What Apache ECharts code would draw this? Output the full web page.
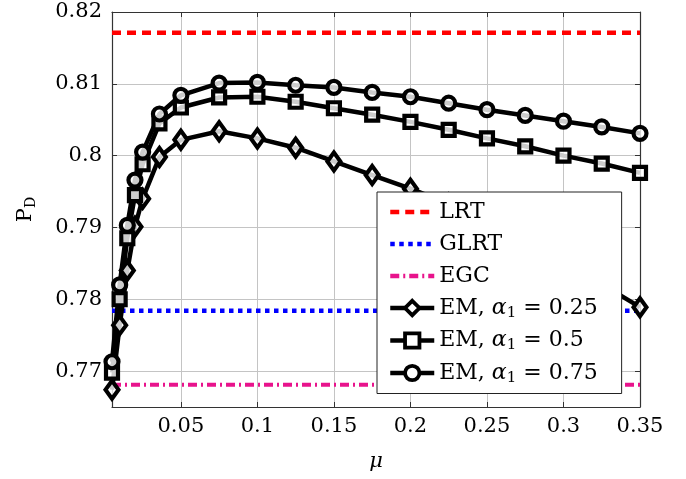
<!DOCTYPE html>
<html>
<head>
<meta charset="utf-8">
<script src="https://cdn.jsdelivr.net/npm/echarts@6/dist/echarts.min.js"></script>
<style>
html,body{margin:0;padding:0;background:#fff;}
#c{width:686px;height:479px;}
</style>
</head>
<body>
<div id="c"></div>
<script>
// ---- data ----
const mu = [0.005, 0.01, 0.015, 0.02, 0.025, 0.036, 0.05, 0.075, 0.1, 0.125, 0.15, 0.175, 0.2, 0.225, 0.25, 0.275, 0.3, 0.325, 0.35];
const emA025 = [0.7674, 0.7764, 0.7840, 0.7901, 0.7940, 0.7998, 0.8022, 0.8034, 0.8024, 0.8011, 0.7992, 0.7973, 0.7954, 0.7933, 0.7910, 0.7885, 0.7856, 0.7821, 0.7789];
const emA050 = [0.7698, 0.7800, 0.7885, 0.7945, 0.7988, 0.8045, 0.8067, 0.8081, 0.8082, 0.8075, 0.8066, 0.8057, 0.8047, 0.8036, 0.8024, 0.8013, 0.8000, 0.7989, 0.7976];
const emA075 = [0.7713, 0.7820, 0.7903, 0.7966, 0.8005, 0.8058, 0.8084, 0.8101, 0.8102, 0.8098, 0.8095, 0.8088, 0.8082, 0.8073, 0.8064, 0.8056, 0.8048, 0.8040, 0.8031];
const lrtValue = 0.8171;
const glrtValue = 0.7784;
const egcValue = 0.7681;
const xTicks = [0.05, 0.1, 0.15, 0.2, 0.25, 0.3, 0.35];
const yTicks = [0.77, 0.78, 0.79, 0.8, 0.81, 0.82];
const xRange = [0.005, 0.35];
const yRange = [0.765, 0.82];
const seriesNames = ['LRT', 'GLRT', 'EGC', 'EM, α1 = 0.25', 'EM, α1 = 0.5', 'EM, α1 = 0.75'];

const FONT = 'DejaVu Serif';
const FS = 21;
const fmt = v => String(+(+v).toFixed(3));
const pair = (xs, ys) => xs.map((x, i) => [x, ys[i]]);
const flat = v => [[xRange[0], v], [xRange[1], v]];

const axisLineStyle = {color: '#333', width: 1.2};
const gridLine = {show: true, lineStyle: {color: '#c4c4c4', width: 1}};

const emStyle = (name, data, symbol, size) => ({
  name: name, type: 'line', data: data, xAxisIndex: 0, yAxisIndex: 0,
  symbol: symbol, symbolSize: size, showSymbol: true,
  lineStyle: {color: '#000', width: 4.5},
  itemStyle: {color: 'rgba(255,255,255,0.8)', borderColor: '#000', borderWidth: 4.2},
  emphasis: {disabled: true}, animation: false, clip: false, z: 2
});
const refStyle = (name, v, color, dash, w) => ({
  name: name, type: 'line', data: flat(v), xAxisIndex: 0, yAxisIndex: 0,
  symbol: 'none', showSymbol: false,
  lineStyle: {color: color, width: w, type: dash, cap: 'butt'},
  itemStyle: {color: 'rgba(0,0,0,0)', borderWidth: 0, opacity: 0},
  emphasis: {disabled: true}, animation: false, z: 1
});

const legendItems = seriesNames.map((n, i) => i < 3
  ? {name: n, lineStyle: {width: 4.5}}
  : {name: n, lineStyle: {width: 4.5}, itemStyle: {borderWidth: 3.8, borderColor: '#000', color: '#fff'}});

const chart = echarts.init(document.getElementById('c'), null, {renderer: 'canvas'});
chart.setOption({
  backgroundColor: '#fff',
  animation: false,
  grid: {left: 112, right: 46, top: 12, bottom: 72, containLabel: false},
  xAxis: [{
    type: 'value', min: xRange[0], max: xRange[1], position: 'bottom',
    name: 'μ', nameLocation: 'middle', nameGap: 44,
    nameTextStyle: {fontFamily: FONT, fontSize: FS, fontStyle: 'italic', color: '#000'},
    axisLine: {show: true, lineStyle: axisLineStyle},
    axisTick: {show: true, inside: true, length: 5, customValues: xTicks, lineStyle: {color: '#333'}},
    axisLabel: {show: true, customValues: xTicks, formatter: fmt, margin: 9, fontFamily: FONT, fontSize: FS, color: '#000'},
    splitLine: gridLine
  }, {
    type: 'value', min: xRange[0], max: xRange[1], position: 'top',
    axisLine: {show: true, lineStyle: axisLineStyle},
    axisTick: {show: true, inside: true, length: 5, customValues: xTicks, lineStyle: {color: '#333'}},
    axisLabel: {show: false},
    splitLine: {show: false}
  }],
  yAxis: [{
    type: 'value', min: yRange[0], max: yRange[1], position: 'left',
    name: 'P{s|D}', nameLocation: 'middle', nameGap: 74, nameRotate: 90,
    nameTextStyle: {fontFamily: FONT, fontSize: FS, color: '#000',
      rich: {s: {fontFamily: FONT, fontSize: 14, color: '#000', padding: [10, 0, 0, 0]}}},
    axisLine: {show: true, lineStyle: axisLineStyle},
    axisTick: {show: true, inside: true, length: 5, customValues: yTicks, lineStyle: {color: '#333'}},
    axisLabel: {show: true, customValues: yTicks, formatter: fmt, margin: 10, fontFamily: FONT, fontSize: FS, color: '#000'},
    splitLine: gridLine
  }, {
    type: 'value', min: yRange[0], max: yRange[1], position: 'right',
    axisLine: {show: true, lineStyle: axisLineStyle},
    axisTick: {show: true, inside: true, length: 5, customValues: yTicks, lineStyle: {color: '#333'}},
    axisLabel: {show: false},
    splitLine: {show: false}
  }],
  legend: {
    show: true, orient: 'vertical', left: 377, top: 192, z: 50,
    data: legendItems,
    backgroundColor: '#fff', borderColor: '#222', borderWidth: 1,
    padding: [8, 24, 8, 11], itemGap: 8, itemWidth: 44, itemHeight: 18,
    selectedMode: false,
    textStyle: {fontFamily: FONT, fontSize: 22, color: '#000', lineHeight: 24,
      rich: {
        a: {fontFamily: FONT, fontSize: 22, fontStyle: 'italic', color: '#000'},
        s: {fontFamily: FONT, fontSize: 15, color: '#000', padding: [10, 0, 0, 0]}
      }},
    formatter: function (name) {
      if (name.indexOf('EM') === 0) {
        return 'EM, {a|α}{s|1} = ' + name.split('= ')[1];
      }
      return name;
    }
  },
  series: [
    refStyle(seriesNames[0], lrtValue, '#ff0000', [9, 6], 4.5),
    refStyle(seriesNames[1], glrtValue, '#0000ff', [4.5, 4.5], 4.5),
    refStyle(seriesNames[2], egcValue, '#e8138c', [9, 4, 2, 4], 4),
    emStyle(seriesNames[3], pair(mu, emA025), 'diamond', [13, 18]),
    emStyle(seriesNames[4], pair(mu, emA050), 'rect', 12),
    emStyle(seriesNames[5], pair(mu, emA075), 'circle', 13)
  ]
});
</script>
</body>
</html>
